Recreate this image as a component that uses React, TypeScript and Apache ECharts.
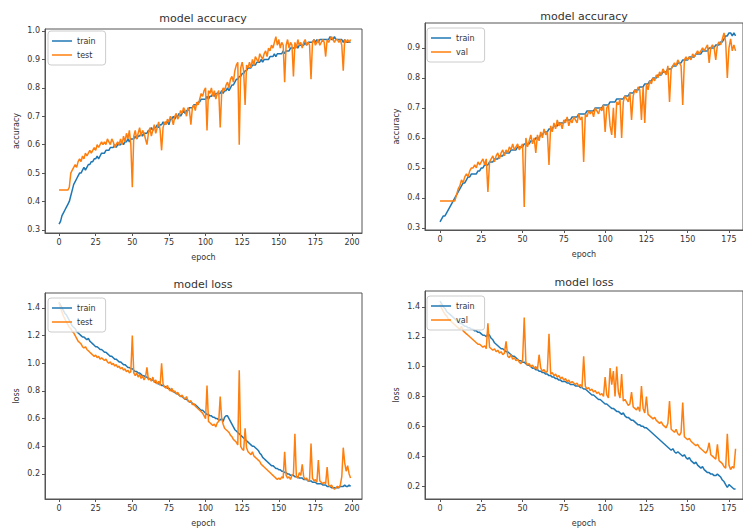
import React, { useEffect, useRef } from "react";
import * as echarts from "echarts";

// ---------- data ----------
const acc1Train = [
  0.32,0.33,0.35,0.36,0.37,0.38,0.39,0.40,0.42,0.44,
  0.46,0.47,0.48,0.49,0.50,0.50,0.51,0.52,0.51,0.52,
  0.53,0.53,0.54,0.54,0.55,0.55,0.56,0.55,0.56,0.57,
  0.57,0.57,0.58,0.58,0.58,0.59,0.59,0.59,0.60,0.59,
  0.60,0.60,0.60,0.61,0.60,0.61,0.61,0.62,0.61,0.62,
  0.62,0.62,0.63,0.62,0.63,0.63,0.64,0.63,0.64,0.64,
  0.64,0.65,0.65,0.66,0.65,0.66,0.66,0.67,0.66,0.67,
  0.67,0.68,0.67,0.68,0.68,0.67,0.69,0.69,0.70,0.69,
  0.70,0.70,0.71,0.70,0.71,0.72,0.71,0.72,0.72,0.73,
  0.73,0.73,0.74,0.74,0.74,0.75,0.75,0.76,0.76,0.76,
  0.76,0.77,0.76,0.77,0.77,0.78,0.77,0.78,0.78,0.78,
  0.78,0.79,0.78,0.79,0.79,0.80,0.79,0.80,0.81,0.81,
  0.82,0.83,0.83,0.84,0.84,0.85,0.85,0.86,0.86,0.87,
  0.87,0.87,0.88,0.88,0.88,0.89,0.89,0.89,0.90,0.89,
  0.90,0.90,0.90,0.90,0.91,0.91,0.91,0.92,0.91,0.92,
  0.92,0.92,0.92,0.93,0.92,0.93,0.93,0.93,0.94,0.94,
  0.94,0.94,0.95,0.94,0.95,0.95,0.95,0.95,0.96,0.95,
  0.96,0.96,0.96,0.96,0.97,0.96,0.97,0.96,0.97,0.97,
  0.97,0.97,0.97,0.97,0.97,0.98,0.97,0.97,0.98,0.97,
  0.97,0.97,0.97,0.97,0.96,0.97,0.96,0.96,0.96,0.96,
];
const acc1Test = [
  0.44,0.44,0.44,0.44,0.44,0.44,0.44,0.45,0.50,0.51,
  0.52,0.53,0.52,0.54,0.55,0.54,0.56,0.55,0.57,0.56,
  0.57,0.58,0.57,0.58,0.59,0.58,0.60,0.59,0.60,0.61,
  0.60,0.61,0.60,0.62,0.61,0.60,0.62,0.61,0.59,0.60,
  0.61,0.60,0.62,0.60,0.63,0.61,0.64,0.62,0.65,0.60,
  0.45,0.63,0.65,0.62,0.64,0.66,0.63,0.65,0.64,0.62,
  0.60,0.64,0.66,0.63,0.65,0.67,0.64,0.66,0.68,0.65,
  0.58,0.66,0.68,0.67,0.69,0.68,0.70,0.69,0.67,0.70,
  0.71,0.69,0.70,0.72,0.71,0.73,0.72,0.70,0.73,0.72,
  0.67,0.73,0.74,0.72,0.75,0.74,0.76,0.78,0.77,0.79,
  0.80,0.65,0.79,0.78,0.80,0.77,0.79,0.76,0.78,0.79,
  0.66,0.78,0.80,0.79,0.81,0.82,0.80,0.83,0.84,0.82,
  0.86,0.88,0.89,0.60,0.87,0.89,0.86,0.74,0.88,0.87,
  0.89,0.87,0.90,0.88,0.91,0.90,0.89,0.92,0.91,0.90,
  0.92,0.93,0.91,0.94,0.93,0.95,0.94,0.96,0.98,0.95,
  0.97,0.94,0.96,0.95,0.82,0.95,0.97,0.94,0.96,0.95,
  0.84,0.96,0.94,0.97,0.95,0.96,0.94,0.96,0.97,0.95,
  0.96,0.95,0.83,0.96,0.97,0.95,0.96,0.97,0.95,0.96,
  0.97,0.96,0.91,0.97,0.96,0.97,0.98,0.97,0.96,0.97,
  0.97,0.96,0.97,0.95,0.86,0.97,0.96,0.97,0.96,0.97,
];
const acc2Train = [
  0.32,0.33,0.34,0.34,0.35,0.36,0.37,0.38,0.39,0.40,
  0.41,0.42,0.43,0.44,0.45,0.45,0.46,0.47,0.47,0.48,
  0.48,0.48,0.48,0.49,0.49,0.50,0.50,0.51,0.51,0.51,
  0.52,0.52,0.52,0.53,0.53,0.53,0.54,0.54,0.54,0.55,
  0.55,0.55,0.55,0.56,0.56,0.56,0.56,0.57,0.57,0.57,
  0.57,0.58,0.58,0.58,0.58,0.59,0.59,0.59,0.60,0.60,
  0.60,0.61,0.61,0.62,0.62,0.62,0.63,0.63,0.63,0.64,
  0.64,0.64,0.65,0.65,0.65,0.65,0.66,0.66,0.66,0.66,
  0.67,0.67,0.67,0.67,0.68,0.68,0.68,0.68,0.68,0.69,
  0.69,0.69,0.69,0.69,0.70,0.70,0.70,0.70,0.70,0.71,
  0.71,0.71,0.71,0.72,0.72,0.72,0.72,0.73,0.73,0.73,
  0.73,0.73,0.74,0.74,0.74,0.75,0.75,0.75,0.76,0.76,
  0.76,0.77,0.77,0.77,0.78,0.78,0.78,0.79,0.79,0.80,
  0.80,0.80,0.81,0.81,0.81,0.82,0.82,0.82,0.83,0.83,
  0.83,0.84,0.84,0.84,0.85,0.85,0.85,0.86,0.86,0.86,
  0.86,0.87,0.87,0.87,0.87,0.88,0.88,0.88,0.88,0.89,
  0.89,0.89,0.89,0.90,0.90,0.90,0.90,0.91,0.91,0.91,
  0.92,0.92,0.93,0.94,0.94,0.95,0.95,0.94,0.95,0.94,
];
const acc2Val = [
  0.39,0.39,0.39,0.39,0.39,0.39,0.39,0.39,0.39,0.39,
  0.41,0.43,0.44,0.46,0.45,0.47,0.48,0.47,0.49,0.50,
  0.50,0.51,0.50,0.52,0.51,0.52,0.53,0.51,0.53,0.42,
  0.52,0.53,0.54,0.52,0.54,0.55,0.53,0.55,0.56,0.54,
  0.56,0.55,0.57,0.56,0.58,0.56,0.57,0.58,0.56,0.57,
  0.58,0.37,0.60,0.57,0.59,0.61,0.58,0.60,0.55,0.61,
  0.59,0.62,0.60,0.63,0.61,0.62,0.51,0.64,0.62,0.65,
  0.63,0.66,0.64,0.65,0.63,0.66,0.65,0.67,0.64,0.66,
  0.65,0.67,0.66,0.65,0.68,0.66,0.67,0.52,0.68,0.67,
  0.69,0.68,0.69,0.67,0.70,0.69,0.68,0.70,0.69,0.71,
  0.62,0.70,0.71,0.64,0.61,0.70,0.60,0.72,0.71,0.73,
  0.60,0.72,0.74,0.73,0.72,0.75,0.66,0.74,0.76,0.75,
  0.77,0.76,0.66,0.77,0.65,0.78,0.76,0.79,0.78,0.80,
  0.79,0.81,0.80,0.82,0.81,0.83,0.82,0.81,0.84,0.72,
  0.83,0.84,0.85,0.84,0.86,0.85,0.84,0.71,0.86,0.87,
  0.86,0.87,0.86,0.88,0.87,0.88,0.89,0.88,0.89,0.90,
  0.89,0.90,0.91,0.85,0.90,0.91,0.90,0.86,0.91,0.92,
  0.91,0.93,0.95,0.92,0.80,0.90,0.93,0.89,0.91,0.89,
];
const loss1Train = [
  1.44,1.42,1.40,1.38,1.36,1.35,1.33,1.31,1.29,1.27,
  1.26,1.25,1.23,1.22,1.21,1.20,1.19,1.19,1.18,1.17,
  1.18,1.16,1.15,1.14,1.13,1.12,1.12,1.11,1.10,1.10,
  1.09,1.08,1.08,1.07,1.06,1.05,1.05,1.04,1.03,1.03,
  1.02,1.01,1.01,1.00,0.99,0.99,0.98,0.97,0.97,0.96,
  0.96,0.95,0.94,0.94,0.93,0.93,0.92,0.91,0.91,0.90,
  0.90,0.89,0.89,0.88,0.88,0.87,0.86,0.86,0.85,0.85,
  0.84,0.84,0.83,0.83,0.82,0.82,0.81,0.80,0.80,0.79,
  0.78,0.78,0.77,0.76,0.76,0.75,0.74,0.74,0.73,0.72,
  0.72,0.71,0.70,0.70,0.69,0.68,0.67,0.66,0.66,0.65,
  0.64,0.63,0.63,0.62,0.62,0.61,0.61,0.60,0.60,0.59,
  0.59,0.60,0.58,0.61,0.62,0.62,0.60,0.58,0.56,0.54,
  0.52,0.51,0.50,0.49,0.48,0.47,0.46,0.45,0.44,0.43,
  0.42,0.41,0.40,0.40,0.39,0.38,0.37,0.35,0.34,0.32,
  0.31,0.30,0.29,0.28,0.27,0.26,0.26,0.25,0.24,0.24,
  0.23,0.23,0.22,0.22,0.21,0.21,0.20,0.20,0.19,0.19,
  0.19,0.18,0.18,0.18,0.17,0.17,0.17,0.16,0.16,0.16,
  0.15,0.15,0.15,0.14,0.14,0.14,0.13,0.13,0.13,0.13,
  0.12,0.12,0.12,0.11,0.11,0.11,0.10,0.10,0.10,0.10,
  0.10,0.10,0.11,0.11,0.11,0.12,0.11,0.11,0.12,0.11,
];
const loss1Test = [
  1.44,1.40,1.37,1.34,1.32,1.30,1.28,1.26,1.25,1.23,
  1.22,1.20,1.18,1.16,1.15,1.14,1.12,1.11,1.12,1.10,
  1.09,1.08,1.07,1.06,1.05,1.06,1.04,1.05,1.03,1.04,
  1.03,1.02,1.03,1.01,1.00,1.01,0.99,1.00,0.98,0.99,
  0.97,0.98,0.96,0.97,0.95,0.96,0.94,0.95,0.93,0.94,
  1.20,0.93,0.91,0.93,0.90,0.92,0.89,0.91,0.88,0.90,
  0.97,0.88,0.89,0.87,0.90,0.86,0.88,0.85,0.87,0.84,
  1.00,0.85,0.83,0.82,0.84,0.81,0.80,0.82,0.79,0.80,
  0.78,0.79,0.77,0.76,0.77,0.75,0.74,0.76,0.73,0.72,
  0.73,0.70,0.71,0.69,0.68,0.67,0.66,0.65,0.64,0.62,
  0.60,0.84,0.58,0.57,0.56,0.55,0.56,0.54,0.57,0.58,
  0.76,0.60,0.56,0.53,0.52,0.51,0.50,0.48,0.47,0.45,
  0.44,0.43,0.41,0.95,0.40,0.38,0.37,0.53,0.39,0.36,
  0.35,0.34,0.36,0.33,0.32,0.31,0.30,0.29,0.27,0.26,
  0.25,0.24,0.23,0.22,0.21,0.20,0.19,0.18,0.17,0.16,
  0.17,0.16,0.18,0.17,0.36,0.19,0.17,0.18,0.16,0.19,
  0.20,0.49,0.18,0.17,0.21,0.19,0.27,0.18,0.16,0.17,
  0.15,0.16,0.42,0.17,0.15,0.16,0.14,0.30,0.15,0.14,
  0.13,0.14,0.13,0.25,0.12,0.11,0.12,0.10,0.09,0.10,
  0.11,0.10,0.12,0.18,0.39,0.28,0.22,0.26,0.20,0.17,
];
const loss2Train = [
  1.44,1.42,1.40,1.39,1.37,1.36,1.35,1.34,1.33,1.32,
  1.31,1.30,1.29,1.29,1.28,1.27,1.27,1.26,1.26,1.25,
  1.25,1.24,1.24,1.23,1.23,1.22,1.21,1.21,1.20,1.22,
  1.21,1.19,1.18,1.16,1.15,1.14,1.13,1.12,1.12,1.11,
  1.10,1.10,1.09,1.08,1.07,1.07,1.06,1.05,1.04,1.04,
  1.03,1.03,1.02,1.01,1.01,1.00,0.99,0.99,0.98,0.98,
  0.97,0.97,0.96,0.96,0.95,0.95,0.94,0.94,0.93,0.93,
  0.92,0.92,0.91,0.91,0.90,0.90,0.90,0.89,0.89,0.88,
  0.88,0.88,0.87,0.87,0.87,0.86,0.86,0.85,0.85,0.84,
  0.83,0.82,0.81,0.81,0.80,0.79,0.78,0.78,0.77,0.76,
  0.75,0.75,0.74,0.73,0.72,0.72,0.71,0.70,0.70,0.69,
  0.68,0.69,0.67,0.66,0.66,0.65,0.64,0.64,0.63,0.62,
  0.61,0.61,0.60,0.60,0.59,0.59,0.58,0.57,0.56,0.55,
  0.54,0.53,0.52,0.51,0.50,0.49,0.48,0.47,0.46,0.45,
  0.44,0.45,0.43,0.42,0.43,0.42,0.41,0.40,0.41,0.39,
  0.38,0.39,0.37,0.36,0.35,0.36,0.34,0.33,0.32,0.33,
  0.31,0.30,0.29,0.29,0.28,0.28,0.27,0.27,0.28,0.27,
  0.26,0.24,0.23,0.21,0.19,0.21,0.20,0.19,0.18,0.18,
];
const loss2Val = [
  1.42,1.39,1.37,1.35,1.34,1.32,1.31,1.30,1.29,1.28,
  1.27,1.26,1.25,1.27,1.24,1.23,1.22,1.21,1.20,1.19,
  1.18,1.17,1.16,1.15,1.15,1.14,1.13,1.14,1.12,1.29,
  1.13,1.12,1.11,1.12,1.10,1.11,1.09,1.10,1.08,1.09,
  1.17,1.07,1.06,1.08,1.05,1.06,1.04,1.05,1.03,1.02,
  1.04,1.33,1.03,1.01,1.02,1.00,1.01,0.99,1.00,0.98,
  1.08,0.99,0.97,0.98,0.96,0.97,1.22,0.95,0.96,0.94,
  0.95,0.93,0.94,0.92,0.93,0.91,0.92,0.90,0.91,0.89,
  0.90,0.89,0.88,0.89,0.87,0.88,0.86,1.07,0.87,0.85,
  0.86,0.84,0.85,0.83,0.84,0.82,0.83,0.81,0.82,0.80,
  0.93,0.81,0.79,0.99,0.88,0.97,0.80,1.00,0.83,0.79,
  0.95,0.77,0.78,0.76,0.74,0.75,0.83,0.73,0.72,0.71,
  0.73,0.70,0.87,0.72,0.69,0.80,0.68,0.67,0.66,0.65,
  0.66,0.64,0.63,0.62,0.63,0.61,0.60,0.59,0.62,0.77,
  0.58,0.57,0.56,0.58,0.55,0.54,0.56,0.76,0.53,0.52,
  0.51,0.52,0.50,0.49,0.48,0.47,0.48,0.46,0.45,0.44,
  0.43,0.42,0.44,0.49,0.41,0.40,0.39,0.38,0.48,0.37,
  0.36,0.35,0.33,0.32,0.55,0.34,0.31,0.33,0.32,0.45,
];

const xTicksA = [0, 25, 50, 75, 100, 125, 150, 175, 200];
const xTicksB = [0, 25, 50, 75, 100, 125, 150, 175];
const yTicksAcc1 = [0.3, 0.4, 0.5, 0.6, 0.7, 0.8, 0.9, 1.0];
const yTicksAcc2 = [0.3, 0.4, 0.5, 0.6, 0.7, 0.8, 0.9];
const yTicksLoss = [0.2, 0.4, 0.6, 0.8, 1.0, 1.2, 1.4];

const BLUE = "#1f77b4";
const ORANGE = "#ff7f0e";
const FONT = "DejaVu Sans";
const TXT = "#333";

const toPairs = (arr: number[]) => arr.map((v, i) => [i, v]);

export default function App() {
  const ref = useRef<HTMLDivElement>(null);
  useEffect(() => {
    if (!ref.current) return;
    const chart = echarts.init(ref.current, null, { renderer: "svg" });

    const grids = [
      { left: 45, top: 29, width: 317, height: 204 },
      { left: 425, top: 23, width: 318, height: 207 },
      { left: 45, top: 293, width: 317, height: 206 },
      { left: 425, top: 291, width: 318, height: 208 },
    ];
    const xRanges = [
      [-9.6, 206.8, xTicksA],
      [-9.1, 183.5, xTicksB],
      [-9.6, 206.8, xTicksA],
      [-9.1, 183.5, xTicksB],
    ] as const;
    const yRanges = [
      [0.289, 1.007, yTicksAcc1, "accuracy"],
      [0.293, 0.983, yTicksAcc2, "accuracy"],
      [0.019, 1.508, yTicksLoss, "loss"],
      [0.113, 1.507, yTicksLoss, "loss"],
    ] as const;

    const xAxis = xRanges.map((r, i) => ({
      type: "value",
      gridIndex: i,
      min: r[0],
      max: r[1],
      name: "epoch",
      nameLocation: "middle",
      nameGap: 20,
      nameTextStyle: { fontFamily: FONT, fontSize: 8, color: TXT },
      axisLine: { show: true, onZero: false, lineStyle: { color: "#555", width: 1 } },
      axisTick: { show: true, length: 3, inside: false, customValues: r[2] as any, lineStyle: { color: "#555" } },
      axisLabel: {
        show: true,
        customValues: r[2] as any,
        margin: 5,
        fontFamily: FONT,
        fontSize: 8,
        color: TXT,
        formatter: (v: number) => String(v),
      },
      splitLine: { show: false },
    }));
    const yAxis = yRanges.map((r, i) => ({
      type: "value",
      gridIndex: i,
      min: r[0],
      max: r[1],
      name: r[3],
      nameLocation: "middle",
      nameRotate: 90,
      nameGap: 25,
      nameTextStyle: { fontFamily: FONT, fontSize: 8, color: TXT },
      axisLine: { show: true, onZero: false, lineStyle: { color: "#555", width: 1 } },
      axisTick: { show: true, length: 3, inside: false, customValues: r[2] as any, lineStyle: { color: "#555" } },
      axisLabel: {
        show: true,
        customValues: r[2] as any,
        margin: 5,
        fontFamily: FONT,
        fontSize: 8,
        color: TXT,
        formatter: (v: number) => v.toFixed(1),
      },
      splitLine: { show: false },
    }));

    const mk = (name: string, data: number[], idx: number, color: string) => ({
      type: "line",
      name,
      xAxisIndex: idx,
      yAxisIndex: idx,
      data: toPairs(data),
      showSymbol: false,
      symbol: "none",
      lineStyle: { color, width: 1.5 },
      itemStyle: { color },
      emphasis: { disabled: true },
    });

    const legendBase = {
      orient: "vertical",
      icon: "rect",
      itemWidth: 20,
      itemHeight: 1.5,
      itemGap: 4,
      padding: [5, 10, 5, 4],
      backgroundColor: "rgba(255,255,255,0.8)",
      borderColor: "#ccc",
      borderWidth: 1,
      borderRadius: 3,
      selectedMode: false,
      textStyle: { fontFamily: FONT, fontSize: 8, color: TXT, lineHeight: 10 },
    };

    const titles = [
      { text: "model accuracy", x: 203, y: 18 },
      { text: "model accuracy", x: 584, y: 16 },
      { text: "model loss", x: 203, y: 284 },
      { text: "model loss", x: 584, y: 282 },
    ];

    chart.setOption({
      animation: false,
      backgroundColor: "#fff",
      grid: grids.map((g) => ({ ...g, show: true, borderColor: "#555", borderWidth: 1, backgroundColor: "transparent" })),
      xAxis,
      yAxis,
      legend: [
        { ...legendBase, left: 48, top: 31, data: ["train", "test"] },
        { ...legendBase, left: 427, top: 28, data: ["train", "val"] },
        { ...legendBase, left: 48, top: 298, data: ["train", "test"] },
        { ...legendBase, left: 427, top: 296, data: ["train", "val"] },
      ],
      graphic: titles.map((t) => ({
        type: "text",
        x: t.x,
        y: t.y,
        style: {
          text: t.text,
          fontFamily: FONT,
          fontSize: 11,
          fill: TXT,
          textAlign: "center",
          textVerticalAlign: "middle",
        },
      })),
      series: [
        mk("train", acc1Train, 0, BLUE),
        mk("test", acc1Test, 0, ORANGE),
        mk("train", acc2Train, 1, BLUE),
        mk("val", acc2Val, 1, ORANGE),
        mk("train", loss1Train, 2, BLUE),
        mk("test", loss1Test, 2, ORANGE),
        mk("train", loss2Train, 3, BLUE),
        mk("val", loss2Val, 3, ORANGE),
      ],
    });
    return () => chart.dispose();
  }, []);
  return (
    <div
      ref={ref}
      style={{ position: "fixed", left: 0, top: 0, width: 743, height: 528, background: "#fff" }}
    />
  );
}
